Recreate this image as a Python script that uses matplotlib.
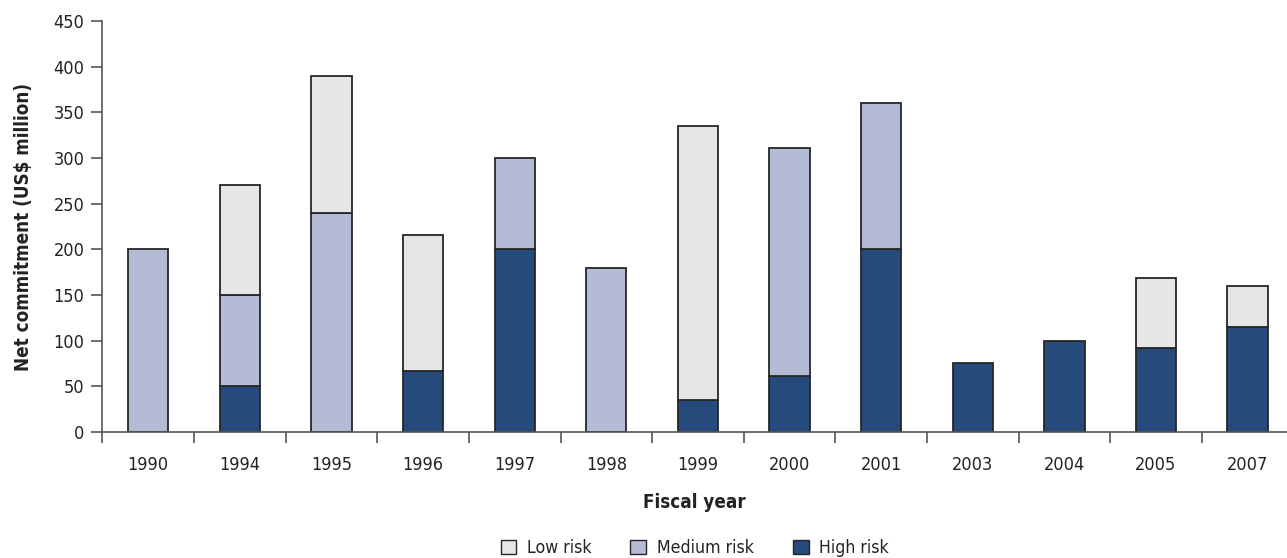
import matplotlib
matplotlib.use("Agg")
import matplotlib.pyplot as plt
from matplotlib.patches import Patch
import numpy as np

years = ["1990", "1994", "1995", "1996", "1997", "1998", "1999",
         "2000", "2001", "2003", "2004", "2005", "2007"]
high_risk = [0, 50, 0, 67, 200, 0, 35, 61, 200, 75, 100, 92, 115]
medium_risk = [200, 100, 240, 0, 100, 180, 0, 250, 160, 0, 0, 0, 0]
low_risk = [0, 120, 150, 149, 0, 0, 300, 0, 0, 0, 0, 77, 45]
y_ticks = [0, 50, 100, 150, 200, 250, 300, 350, 400, 450]

plt.rcParams["font.family"] = ["DejaVu Sans"]
plt.rcParams["font.stretch"] = "condensed"

c_high = "#264a7b"
c_med = "#b3bbd5"
c_low = "#e5e6e8"
edge = "#262626"
txt = "#222222"

fig = plt.figure(figsize=(12.87, 5.58), dpi=100)
ax = fig.add_axes([0.0796, 0.2258, 0.9204, 0.7366])

x = np.arange(len(years))
w = 0.44
high = np.array(high_risk)
med = np.array(medium_risk)
low = np.array(low_risk)

kw = dict(width=w, edgecolor=edge, linewidth=1.3)
b_high = ax.bar(x, high, color=c_high, **kw)
b_med = ax.bar(x, med, bottom=high, color=c_med, **kw)
b_low = ax.bar(x, low, bottom=high + med, color=c_low, **kw)
# hide zero-height segments
for bars, vals in ((b_high, high), (b_med, med), (b_low, low)):
    for b, v in zip(bars, vals):
        if v == 0:
            b.set_visible(False)

ax.set_xlim(-0.5, 12.43)
ax.set_ylim(0, 450)
ax.set_yticks(y_ticks)
ax.set_yticklabels([str(v) for v in y_ticks], fontsize=13, color=txt)

# category labels centered, tick marks between categories
ax.set_xticks(np.arange(-0.5, 12.5, 1.0))
ax.set_xticklabels([])
ax.set_xticks(x, minor=True)
ax.set_xticklabels(years, minor=True, fontsize=13, color=txt)
ax.tick_params(axis="x", which="minor", length=0, pad=17)
ax.tick_params(axis="x", which="major", length=8, width=1.2, color="#555555", direction="out")
ax.tick_params(axis="y", length=8, width=1.2, color="#555555", direction="out", pad=5)

for s in ("top", "right"):
    ax.spines[s].set_visible(False)
for s in ("left", "bottom"):
    ax.spines[s].set_color("#555555")
    ax.spines[s].set_linewidth(1.2)

ax.set_xlabel("Fiscal year", fontsize=13.5, fontweight="bold", color=txt, labelpad=14)
ax.set_ylabel("Net commitment (US$ million)", fontsize=13.5, fontweight="bold",
              color=txt, labelpad=15)

handles = [Patch(facecolor=c, edgecolor=edge, linewidth=1.0) for c in (c_low, c_med, c_high)]
axes_mid = (ax.get_position().x0 + ax.get_position().x1) / 2
leg = fig.legend(handles, ["Low risk", "Medium risk", "High risk"], loc="center",
                 bbox_to_anchor=(axes_mid, 0.018), ncol=3, frameon=False, fontsize=12.7,
                 handlelength=0.9, handleheight=0.9, handletextpad=0.6,
                 columnspacing=2.2, borderpad=0)
for t in leg.get_texts():
    t.set_color(txt)

fig.savefig("out.png", dpi=100)
